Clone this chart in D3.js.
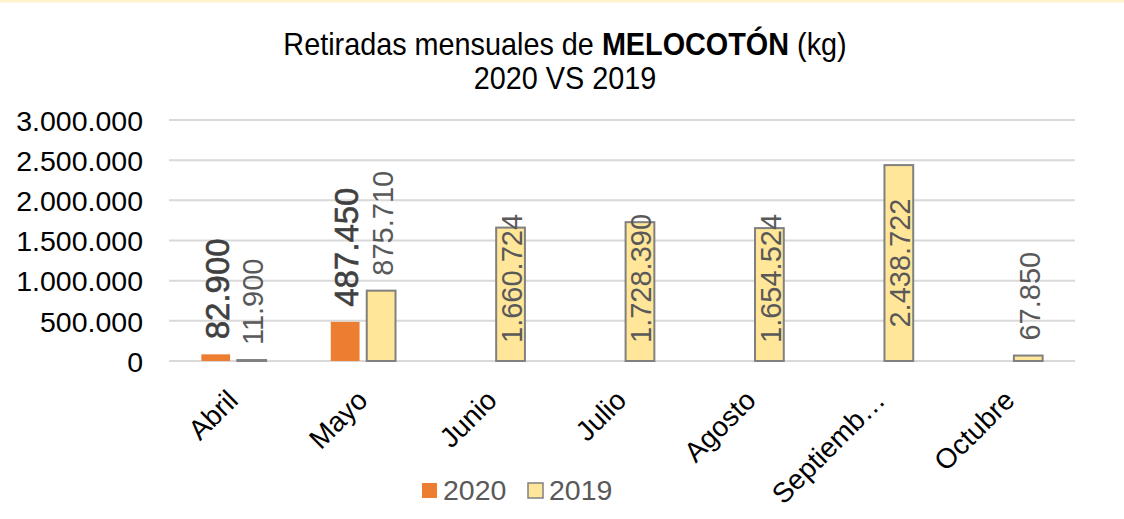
<!DOCTYPE html>
<html><head><meta charset="utf-8">
<script src="https://cdn.jsdelivr.net/npm/d3@7"></script>
<style>body{margin:0;background:#fff}svg{display:block}</style>
</head><body>
<svg id="c" width="1124" height="519"></svg>
<script>
const categories = ["Abril","Mayo","Junio","Julio","Agosto","Septiemb…","Octubre"];
const series = ["2020","2019"];
const values2020 = [82900, 487450, null, null, null, null, null];
const values2019 = [11900, 875710, 1660724, 1728390, 1654524, 2438722, 67850];
const yTicks = [0, 500000, 1000000, 1500000, 2000000, 2500000, 3000000];
const colors = {"2020":"#ED7D31","2019":"#FFE699"};

const fmt = v => d3.format(",")(v).replace(/,/g, ".");
const svg = d3.select("#c");
const font = "'Liberation Sans', Arial, sans-serif";

// top border
svg.append("line").attr("x1",0).attr("x2",1124).attr("y1",1).attr("y2",1)
  .attr("stroke","#FFF2CC").attr("stroke-width",3);

const m = {left:169, right:1075, top:120, bottom:361};
const x0 = d3.scaleBand().domain(categories).range([m.left, m.right]).paddingInner(0.5).paddingOuter(0.25);
const x1 = d3.scaleBand().domain(series).range([0, x0.bandwidth()]).paddingInner(0.2);
const y = d3.scaleLinear().domain([0, 3000000]).range([m.bottom, m.top]);

// grid
svg.append("g").selectAll("line").data(yTicks).join("line")
  .attr("x1", m.left).attr("x2", m.right)
  .attr("y1", d => y(d)).attr("y2", d => y(d))
  .attr("stroke", "#D9D9D9").attr("stroke-width", 2);

// y labels
const yAxis = d3.axisLeft(y).tickValues(yTicks).tickFormat(fmt).tickSize(0).tickPadding(0);
const ya = svg.append("g").attr("transform", `translate(${m.left-26},0)`).call(yAxis);
ya.select(".domain").remove();
ya.selectAll("text").attr("font-family", font).attr("font-size", 28.5).attr("fill", "#000").attr("dy","0.36em");

const rows = categories.map((c,i) => ({cat:c, "2020":values2020[i], "2019":values2019[i]}));

const g = svg.append("g");
series.forEach(s => {
  const data = rows.filter(r => r[s] != null);
  g.selectAll(".b"+s).data(data).join("rect")
    .attr("x", d => x0(d.cat) + x1(s))
    .attr("width", x1.bandwidth())
    .attr("y", d => y(d[s]))
    .attr("height", d => y(0) - y(d[s]))
    .attr("fill", colors[s])
    .attr("stroke", s === "2019" ? "#808080" : "none")
    .attr("stroke-width", 2);
});

// labels
const plotTop = m.top - 10;
series.forEach(s => {
  const fs = s === "2020" ? 33 : 29;
  const data = rows.filter(r => r[s] != null);
  const sel = g.selectAll(".l"+s).data(data).join("text")
    .attr("font-family", font)
    .attr("font-size", fs)
    .attr("fill", s === "2020" ? "#404040" : "#595959")
    .attr("stroke", s === "2020" ? "#404040" : "none")
    .attr("stroke-width", 0.6)
    .attr("dominant-baseline", "central")
    .attr("text-anchor", "start")
    .text(d => fmt(d[s]));
  sel.each(function(d){
    const len = this.getComputedTextLength();
    const cx = x0(d.cat) + x1(s) + x1.bandwidth()/2 + 1.5;
    const top = y(d[s]);
    const gap = 15;
    let start = top - gap;
    if (start - len < plotTop) {
      const centerY = (top + y(0)) / 2;
      start = Math.min(centerY + len/2, y(0) - 18);
    }
    d3.select(this).attr("transform", `translate(${cx},${start}) rotate(-90)`);
  });
});

// x labels
svg.append("g").selectAll("text").data(categories).join("text")
  .attr("font-family", font).attr("font-size", 28).attr("fill", "#000")
  .attr("text-anchor", "end")
  .attr("transform", d => `translate(${x0(d) + x0.bandwidth()/2 + 6},${m.bottom + 41}) rotate(-45)`)
  .text(d => d);

// title
const t = svg.append("text").attr("transform", "translate(565,55) scale(0.9,1)").attr("text-anchor","middle")
  .attr("font-family", font).attr("font-size", 32).attr("fill","#000");
t.append("tspan").text("Retiradas mensuales de ");
t.append("tspan").attr("font-weight","bold").text("MELOCOTÓN");
t.append("tspan").text(" (kg)");
svg.append("text").attr("transform", "translate(565,89) scale(0.9,1)").attr("text-anchor","middle")
  .attr("font-family", font).attr("font-size", 32).attr("fill","#000")
  .text("2020 VS 2019");

// legend
const leg = svg.append("g");
const legItems = [{s:"2020", x:422}, {s:"2019", x:528}];
legItems.forEach(it => {
  leg.append("rect").attr("x", it.x).attr("y", 483).attr("width", 15).attr("height", 15)
    .attr("fill", colors[it.s]).attr("stroke", it.s==="2019" ? "#808080" : "none").attr("stroke-width", 1.5);
  leg.append("text").attr("x", it.x + 21).attr("y", 500).attr("font-family", font)
    .attr("font-size", 28.5).attr("fill", "#595959").text(it.s);
});
</script>
</body></html>
